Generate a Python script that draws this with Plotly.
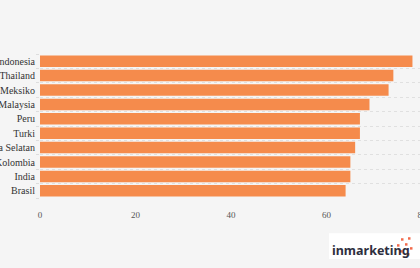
import plotly.graph_objects as go

countries = ["Indonesia", "Thailand", "Meksiko", "Malaysia", "Peru", "Turki",
             "Korea Selatan", "Kolombia", "India", "Brasil"]
values = [78, 74, 73, 69, 67, 67, 66, 65, 65, 64]
x_ticks = [0, 20, 40, 60, 80]

BG = "#f5f5f5"
BAR = "#f58b4c"
FONT = "Liberation Serif"

fig = go.Figure(go.Bar(
    x=values, y=countries, orientation="h",
    marker=dict(color=BAR, line=dict(width=0)),
    hoverinfo="skip",
))

W, H = 440, 268
fig.update_layout(
    width=W, height=H,
    paper_bgcolor=BG, plot_bgcolor=BG,
    margin=dict(l=40, r=W - 422, t=53.5, b=69.5, autoexpand=False),
    bargap=0.2,
    showlegend=False,
    font=dict(family=FONT, size=9, color="#555555"),
)
fig.update_xaxes(
    range=[0, 80], tickvals=x_ticks, showgrid=False, zeroline=False,
    showline=False, ticks="outside", ticklen=8, tickcolor="rgba(0,0,0,0)",
    tickfont=dict(family=FONT, size=9, color="#555555"),
)
fig.update_yaxes(
    categoryorder="array", categoryarray=countries[::-1],
    automargin=False, showgrid=True, gridcolor="#e0e0e0", griddash="dot",
    gridwidth=1, tickson="boundaries", ticks="outside", ticklen=3,
    tickcolor="#dddddd", showline=False, zeroline=False,
    ticklabelstandoff=4,
    tickfont=dict(family=FONT, size=10, color="#333333"),
)

# logo box (decoration)
def px(x):
    return (x - 40) / 382

def py(y):
    return -(y - 198.5) / 145

fig.add_shape(type="rect", xref="paper", yref="paper",
              x0=px(329), x1=px(422), y0=py(260), y1=py(234),
              fillcolor="white", line=dict(width=0), layer="below")
fig.add_annotation(xref="paper", yref="paper", x=px(330), y=py(251),
                   text="<b>inmarketing</b>", showarrow=False, xanchor="left", yanchor="middle",
                   font=dict(family="Noto Sans", size=12.5, color="#2e2e3e"))
dots = [(401, 239), (408, 238), (397, 245), (405, 244), (410, 248), (400, 251), (407, 254)]
for dx, dy in dots:
    fig.add_shape(type="rect", xref="paper", yref="paper",
                  x0=px(dx), x1=px(dx + 2.5), y0=py(dy + 2.5), y1=py(dy),
                  fillcolor="#f26a4b", line=dict(width=0))

fig.write_html("out.html")
